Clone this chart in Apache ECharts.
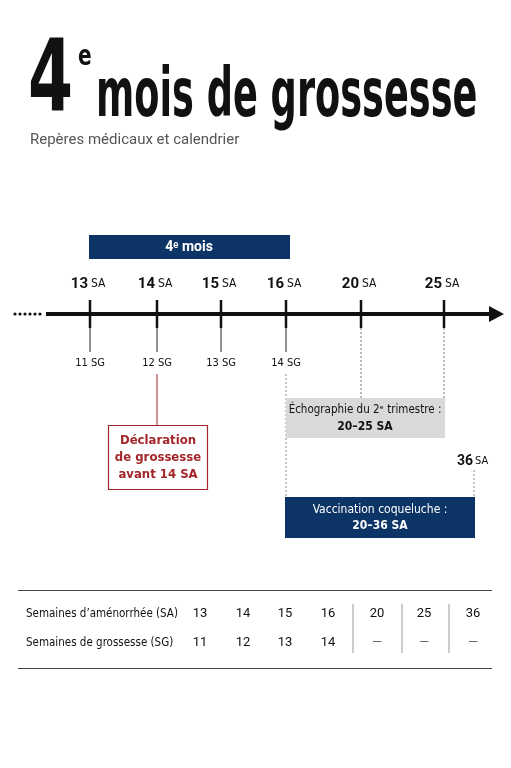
<!DOCTYPE html>
<html><head><meta charset="utf-8">
<script src="https://cdn.jsdelivr.net/npm/echarts@6/dist/echarts.min.js"></script>
<style>html,body{margin:0;padding:0;background:#fff}#c{width:511px;height:768px}</style>
</head><body><div id="c"></div>
<script>
const saWeeks = [13, 14, 15, 16, 20, 25];
const sgWeeks = [11, 12, 13, 14];
const axisPos = [90, 157, 221, 286, 361, 444]; // timeline position of each SA week
const tableSA = ['13','14','15','16','20','25','36'];
const tableSG = ['11','12','13','14','—','—','—'];
const tableX = [200, 243, 285, 328, 377, 424, 473];
const rowLabels = ["Semaines d’aménorrhée (SA)", "Semaines de grossesse (SG)"];

const F = 'Roboto, "Liberation Sans", sans-serif';
const FC = '"DejaVu Sans Condensed", "Liberation Sans Narrow", sans-serif';
const NAVY = '#0d3466', RED = '#a3262a';
const g = [];
const txt = (x, y, t, o) => g.push(Object.assign({type:'text', x, y, style:Object.assign({text:t, fill:'#111', font:'13px '+F, textAlign:'center', textVerticalAlign:'middle'}, o||{})}));
const line = (x1,y1,x2,y2,o) => g.push({type:'line', shape:{x1,y1,x2,y2}, style:Object.assign({stroke:'#111', lineWidth:1}, o||{})});
const rect = (x,y,w,h,o) => g.push({type:'rect', shape:{x,y,width:w,height:h}, style:o});

// Title
g.push({type:'text', x:28, y:134, scaleX:0.72, style:{text:'4', font:'bold 100px '+FC, fill:'#111', textVerticalAlign:'bottom'}});
g.push({type:'text', x:78, y:44, scaleX:0.8, style:{text:'e', font:'bold 28px '+FC, fill:'#111'}});
g.push({type:'text', x:96, y:132, scaleX:0.6, style:{text:'mois de grossesse', font:'bold 68px '+FC, fill:'#111', textVerticalAlign:'bottom'}});
txt(30, 140, 'Repères médicaux et calendrier', {textAlign:'left', fill:'#555', font:'15px '+F});

// 4e mois bar
rect(89, 235, 201, 24, {fill:NAVY});
txt(189, 247, '4ᵉ mois', {fill:'#fff', font:'bold 14px '+F});

// SA labels and ticks
saWeeks.forEach((w, i) => {
  const x = axisPos[i];
  g.push({type:'text', x:x-2, y:284, style:{text:String(w), font:'bold 15px '+F, fill:'#111', textAlign:'right', textVerticalAlign:'middle'}});
  g.push({type:'text', x:x+1, y:284, style:{text:'SA', font:'12px '+FC, fill:'#111', textAlign:'left', textVerticalAlign:'middle'}});
  line(x, 300, x, 328, {lineWidth:2.5});
  if (i < sgWeeks.length) {
    line(x, 328, x, 352, {lineWidth:1, stroke:'#222'});
    txt(x, 363, sgWeeks[i] + ' SG', {font:'11px '+FC});
  } else {
    line(x, 328, x, 398, {lineWidth:1, stroke:'#777', lineDash:[2,2]});
  }
});
// axis
line(46, 314, 494, 314, {lineWidth:4});
g.push({type:'polygon', shape:{points:[[489,306],[504,314],[489,322]]}, style:{fill:'#111'}});
[15,20,25,30,35,40].forEach(x => g.push({type:'circle', shape:{cx:x, cy:314, r:1.6}, style:{fill:'#111'}}));

// Declaration
line(157, 374, 157, 425, {stroke:RED});
rect(108.5, 425.5, 99, 64, {fill:'#fff', stroke:RED, lineWidth:1.2});
txt(158, 441, 'Déclaration', {fill:RED, font:'bold 13px '+FC});
txt(158, 458, 'de grossesse', {fill:RED, font:'bold 13px '+FC});
txt(158, 475, 'avant 14 SA', {fill:RED, font:'bold 13px '+FC});

// Echographie
line(286, 374, 286, 497, {stroke:'#888', lineDash:[2,2]});
rect(286, 398, 159, 40, {fill:'#d9d9d9'});
txt(365, 410, 'Échographie du 2ᵉ trimestre :', {font:'11.5px '+FC});
txt(365, 427, '20–25 SA', {font:'bold 12px '+FC});

// 36 SA
g.push({type:'text', x:473, y:461, style:{text:'36', font:'bold 14px '+F, fill:'#111', textAlign:'right', textVerticalAlign:'middle'}});
g.push({type:'text', x:475, y:461, style:{text:'SA', font:'11px '+FC, fill:'#111', textAlign:'left', textVerticalAlign:'middle'}});
line(474, 470, 474, 497, {stroke:'#888', lineDash:[2,2]});

// Vaccination
rect(285, 497, 190, 41, {fill:NAVY});
txt(380, 510, 'Vaccination coqueluche :', {fill:'#fff', font:'12px '+FC});
txt(380, 526, '20–36 SA', {fill:'#fff', font:'bold 12px '+FC});

// Table
line(18, 590.5, 492, 590.5, {stroke:'#444'});
line(18, 668.5, 492, 668.5, {stroke:'#444'});
txt(26, 614, rowLabels[0], {textAlign:'left', font:'11.5px '+FC});
txt(26, 643, rowLabels[1], {textAlign:'left', font:'11.5px '+FC});
tableX.forEach((x, i) => {
  txt(x, 614, tableSA[i], {font:'13px '+F});
  txt(x, 643, tableSG[i], {font:'13px '+F, fill: tableSG[i]==='—' ? '#666' : '#111'});
});
[353, 402, 449].forEach(x => line(x, 604, x, 653, {stroke:'#999'}));

const chart = echarts.init(document.getElementById('c'));
chart.setOption({animation:false, graphic:g});
</script></body></html>
